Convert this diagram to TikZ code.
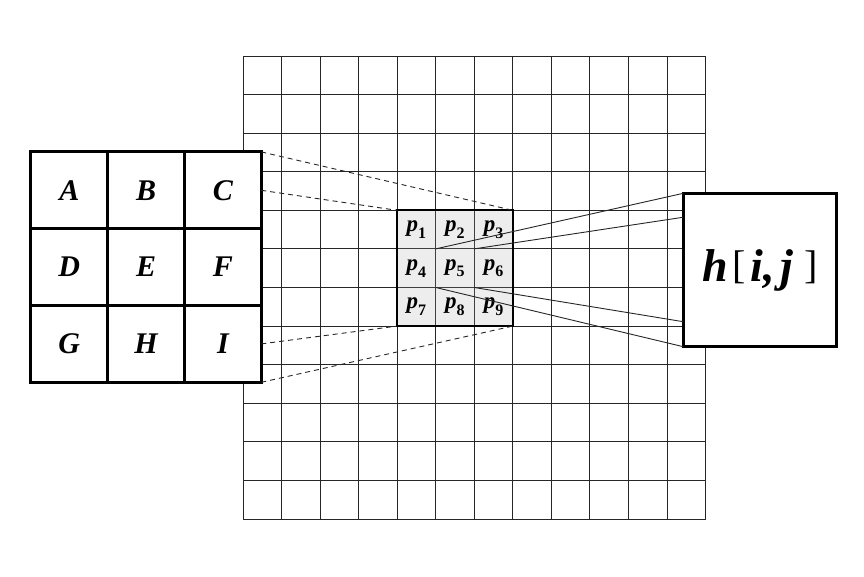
\documentclass[tikz,border=0pt]{standalone}
\usepackage{fontspec}
\setmainfont{Liberation Serif}
\usetikzlibrary{calc}
\newcommand\pl[1]{p\raisebox{-0.3em}{\fontsize{16}{16}\selectfont\upshape #1}}
\newcommand\brk[1]{\raisebox{3pt}{\fontsize{40}{40}\selectfont\mdseries\upshape #1}}
\begin{document}
\begin{tikzpicture}[x=1pt,y=-1pt,
  gridline/.style={draw=black!85,line width=0.9pt,line cap=rect},
  kcell/.style={draw=black,line width=3pt,fill=white,minimum size=76.8pt,inner sep=0pt,outer sep=0pt,
    font=\fontsize{30}{30}\selectfont\bfseries\itshape},
  pcell/.style={draw=black!75,line width=0.9pt,fill=black!7,minimum size=38.55pt,inner sep=0pt,outer sep=0pt,
    font=\fontsize{23}{23}\selectfont\bfseries\itshape},
  patchframe/.style={draw=black,line width=1.8pt},
  dashline/.style={draw=black!85,line width=0.9pt,dash pattern=on 5pt off 4pt},
  feedline/.style={draw=black!85,line width=0.9pt},
  hbox/.style={draw=black,line width=3pt,fill=white,minimum width=153.4pt,minimum height=153.4pt,
    inner sep=0pt,outer sep=0pt,font=\fontsize{46}{46}\selectfont\bfseries\itshape}]
\useasboundingbox (0,0) rectangle (864,576);
% background image grid
\foreach \i in {0,...,12}{
  \draw[gridline] (243+\i*38.54,56) -- (243+\i*38.54,519);
  \draw[gridline] (243,56+\i*38.58) -- (705.5,56+\i*38.58);
}
% kernel
\node[kcell] (kA) at (69.3,190.3) {A};
\node[kcell] (kB) at (146.1,190.3) {B};
\node[kcell] (kC) at (222.9,190.3) {C};
\node[kcell] (kD) at (69.3,267.1) {D};
\node[kcell] (kE) at (146.1,267.1) {E};
\node[kcell] (kF) at (222.9,267.1) {F};
\node[kcell] (kG) at (69.3,343.9) {G};
\node[kcell] (kH) at (146.1,343.9) {H};
\node[kcell] (kI) at (222.9,343.9) {I};
% patch
\node[pcell] (p1) at (416.4,229.6) {\pl{1}};
\node[pcell] (p2) at (454.9,229.6) {\pl{2}};
\node[pcell] (p3) at (493.5,229.6) {\pl{3}};
\node[pcell] (p4) at (416.4,268.2) {\pl{4}};
\node[pcell] (p5) at (454.9,268.2) {\pl{5}};
\node[pcell] (p6) at (493.5,268.2) {\pl{6}};
\node[pcell] (p7) at (416.4,306.8) {\pl{7}};
\node[pcell] (p8) at (454.9,306.8) {\pl{8}};
\node[pcell] (p9) at (493.5,306.8) {\pl{9}};
\draw[patchframe] (p1.north west) rectangle (p9.south east);
% output box
\node[hbox] (h) at (760,270) {h\hspace{5pt}\brk{[}\hspace{4pt}i,\hspace{6pt}j\hspace{11pt}\brk{]}};
% connectors
\draw[dashline] (kC.north east) -- (p3.north east);
\draw[dashline] (kC.east) -- (p1.north west);
\draw[dashline] (kI.east) -- (p7.south west);
\draw[dashline] (kI.south east) -- (p9.south east);
\draw[feedline] (p1.south east) -- (h.north west);
\draw[feedline] (p2.south east) -- ($(h.north west)!0.156!(h.south west)$);
\draw[feedline] (p4.south east) -- (h.south west);
\draw[feedline] (p5.south east) -- ($(h.north west)!0.837!(h.south west)$);
\end{tikzpicture}
\end{document}
